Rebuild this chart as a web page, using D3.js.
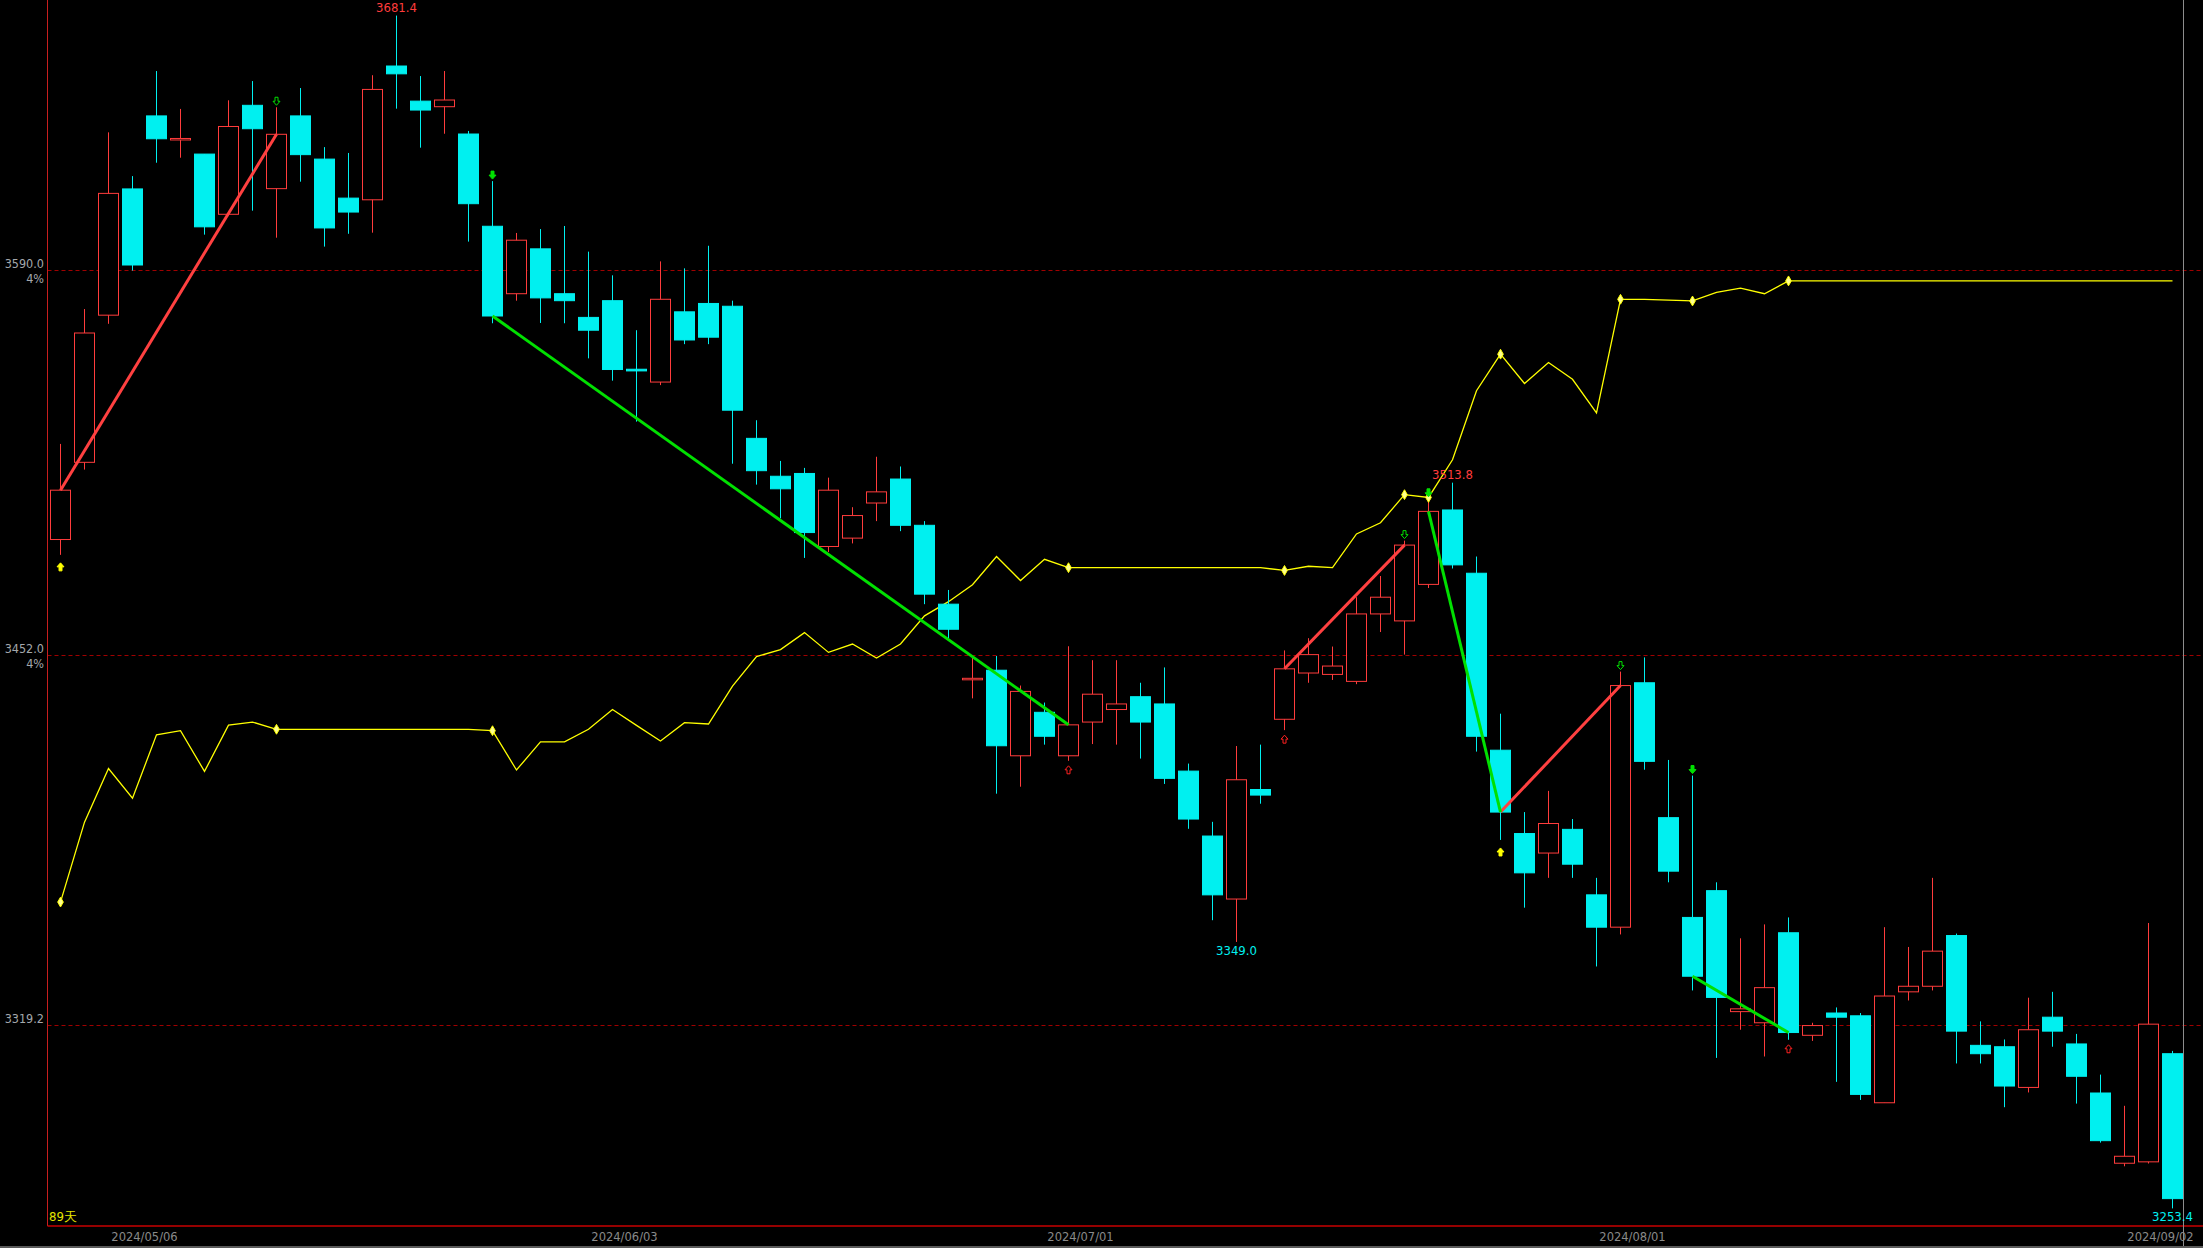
<!DOCTYPE html>
<html>
<head>
<meta charset="utf-8">
<script src="https://cdn.jsdelivr.net/npm/d3@7"></script>
<style>
  html, body { margin: 0; padding: 0; background: #000; }
  svg { display: block; }
  text { font-family: "Liberation Sans Narrow", "Arial Narrow", "DejaVu Sans Condensed", sans-serif; }
</style>
</head>
<body>
<div id="chart"></div>
<script>
var width = 2203;
var height = 1248;

// trading days shown (89天)
var dates = [
  "2024/04/25", "2024/04/26", "2024/04/29", "2024/04/30",
  "2024/05/06", "2024/05/07", "2024/05/08", "2024/05/09", "2024/05/10",
  "2024/05/13", "2024/05/14", "2024/05/15", "2024/05/16", "2024/05/17",
  "2024/05/20", "2024/05/21", "2024/05/22", "2024/05/23", "2024/05/24",
  "2024/05/27", "2024/05/28", "2024/05/29", "2024/05/30", "2024/05/31",
  "2024/06/03", "2024/06/04", "2024/06/05", "2024/06/06", "2024/06/07",
  "2024/06/11", "2024/06/12", "2024/06/13", "2024/06/14",
  "2024/06/17", "2024/06/18", "2024/06/19", "2024/06/20", "2024/06/21",
  "2024/06/24", "2024/06/25", "2024/06/26", "2024/06/27", "2024/06/28",
  "2024/07/01", "2024/07/02", "2024/07/03", "2024/07/04", "2024/07/05",
  "2024/07/08", "2024/07/09", "2024/07/10", "2024/07/11", "2024/07/12",
  "2024/07/15", "2024/07/16", "2024/07/17", "2024/07/18", "2024/07/19",
  "2024/07/22", "2024/07/23", "2024/07/24", "2024/07/25", "2024/07/26",
  "2024/07/29", "2024/07/30", "2024/07/31",
  "2024/08/01", "2024/08/02",
  "2024/08/05", "2024/08/06", "2024/08/07", "2024/08/08", "2024/08/09",
  "2024/08/12", "2024/08/13", "2024/08/14", "2024/08/15", "2024/08/16",
  "2024/08/19", "2024/08/20", "2024/08/21", "2024/08/22", "2024/08/23",
  "2024/08/26", "2024/08/27", "2024/08/28", "2024/08/29", "2024/08/30",
  "2024/09/02"
];

var open = [
  3493.4, 3521.1, 3573.9, 3619.2, 3645.4, 3637.0, 3631.7, 3610.1, 3649.2, 3619.3,
  3645.4, 3629.9, 3615.9, 3615.3, 3663.3, 3650.7, 3648.7, 3638.9, 3605.8, 3581.6,
  3597.7, 3581.6, 3573.1, 3579.1, 3554.5, 3549.9, 3575.1, 3578.1, 3577.1, 3529.7,
  3516.1, 3517.1, 3490.9, 3493.9, 3506.5, 3515.1, 3498.5, 3470.2, 3443.3, 3446.5,
  3415.8, 3431.4, 3415.8, 3427.9, 3432.4, 3437.0, 3434.4, 3410.3, 3387.0, 3364.4,
  3403.7, 3428.9, 3445.5, 3445.0, 3442.5, 3466.7, 3464.2, 3477.3, 3504.0, 3481.3,
  3417.8, 3387.9, 3380.9, 3389.4, 3365.9, 3354.3, 3442.0, 3393.6, 3357.8, 3367.4,
  3324.0, 3320.0, 3352.3, 3315.5, 3323.5, 3322.5, 3291.3, 3331.1, 3333.1, 3351.3,
  3311.9, 3311.4, 3296.8, 3322.0, 3312.4, 3294.8, 3269.6, 3270.1, 3308.9
];
var high = [
  3527.7, 3576.1, 3639.5, 3623.8, 3661.5, 3647.9, 3631.7, 3651.0, 3657.9, 3648.5,
  3655.4, 3634.2, 3632.1, 3660.0, 3681.4, 3659.7, 3661.5, 3640.0, 3622.0, 3603.4,
  3604.8, 3605.9, 3596.7, 3588.2, 3568.5, 3593.2, 3590.7, 3598.8, 3579.1, 3536.2,
  3521.6, 3519.1, 3515.6, 3505.0, 3523.1, 3519.6, 3500.0, 3475.3, 3451.0, 3451.6,
  3441.0, 3434.9, 3455.1, 3450.1, 3450.1, 3442.0, 3447.5, 3413.0, 3392.1, 3419.3,
  3419.8, 3453.6, 3458.0, 3455.0, 3472.7, 3480.3, 3493.0, 3508.0, 3513.8, 3487.3,
  3430.9, 3395.6, 3403.2, 3393.1, 3372.0, 3446.0, 3451.1, 3414.3, 3408.7, 3370.4,
  3350.3, 3355.3, 3357.8, 3320.0, 3325.5, 3323.5, 3354.3, 3347.2, 3372.0, 3352.0,
  3320.5, 3314.0, 3329.0, 3331.1, 3316.0, 3301.4, 3290.2, 3355.8, 3309.9
];
var low = [
  3487.9, 3518.5, 3570.8, 3589.9, 3628.6, 3630.4, 3602.8, 3610.1, 3611.4, 3601.7,
  3621.8, 3598.5, 3603.1, 3603.5, 3648.0, 3634.0, 3639.0, 3600.3, 3571.0, 3579.1,
  3571.1, 3571.0, 3558.4, 3550.4, 3535.7, 3548.8, 3563.5, 3563.5, 3520.6, 3513.1,
  3501.0, 3486.8, 3488.9, 3492.0, 3500.0, 3496.4, 3470.2, 3457.6, 3436.4, 3402.2,
  3404.7, 3419.8, 3414.0, 3420.0, 3419.8, 3414.8, 3405.7, 3389.6, 3356.8, 3349.0,
  3398.6, 3425.0, 3442.0, 3443.0, 3441.5, 3460.2, 3452.1, 3476.0, 3483.0, 3417.3,
  3385.6, 3361.3, 3372.0, 3372.0, 3340.2, 3351.7, 3410.8, 3370.4, 3331.6, 3307.4,
  3317.5, 3307.9, 3313.9, 3313.5, 3298.8, 3292.3, 3291.3, 3328.0, 3331.6, 3305.4,
  3305.4, 3289.7, 3295.0, 3311.4, 3291.0, 3277.0, 3268.5, 3269.5, 3253.4
];
var close = [
  3511.1, 3567.5, 3617.6, 3591.9, 3637.2, 3637.3, 3605.6, 3641.6, 3640.8, 3638.8,
  3631.5, 3605.2, 3610.9, 3654.9, 3660.5, 3647.5, 3651.1, 3613.9, 3573.6, 3600.8,
  3580.1, 3579.1, 3568.5, 3554.4, 3553.9, 3579.6, 3565.0, 3566.0, 3539.8, 3518.1,
  3511.6, 3495.9, 3511.1, 3502.0, 3510.5, 3498.5, 3473.8, 3461.2, 3443.6, 3419.4,
  3438.9, 3422.8, 3426.9, 3437.9, 3434.4, 3427.9, 3407.7, 3393.1, 3365.9, 3407.2,
  3401.7, 3447.0, 3452.1, 3448.0, 3466.7, 3472.7, 3491.4, 3503.5, 3484.3, 3422.8,
  3395.6, 3373.8, 3391.5, 3376.9, 3354.3, 3441.0, 3413.8, 3374.4, 3336.7, 3329.1,
  3325.0, 3332.6, 3316.5, 3319.0, 3322.0, 3294.3, 3329.6, 3333.1, 3345.7, 3317.0,
  3308.9, 3297.3, 3317.5, 3317.0, 3300.8, 3277.7, 3272.1, 3319.5, 3256.9
];

// yellow indicator line, drawn on the price axis
var yellowLine = [
  3363.3, 3392.0, 3411.2, 3400.6, 3423.3, 3424.8, 3410.2, 3426.8, 3427.9, 3425.3,
  3425.3, 3425.3, 3425.3, 3425.3, 3425.3, 3425.3, 3425.3, 3425.3, 3424.8, 3410.7,
  3420.8, 3420.8, 3425.3, 3432.4, 3426.7, 3421.1, 3427.7, 3427.2, 3440.8, 3451.4,
  3453.9, 3460.0, 3452.9, 3455.9, 3450.9, 3455.9, 3466.0, 3471.1, 3477.2, 3487.3,
  3478.7, 3486.3, 3483.3, 3483.3, 3483.3, 3483.3, 3483.3, 3483.3, 3483.3, 3483.3,
  3483.3, 3482.3, 3483.8, 3483.3, 3495.4, 3499.4, 3509.5, 3508.5, 3522.0, 3546.8,
  3559.9, 3549.4, 3556.9, 3550.9, 3538.8, 3579.6, 3579.6, 3579.3, 3579.0, 3582.1,
  3583.6, 3581.6, 3586.2, 3586.2, 3586.2, 3586.2, 3586.2, 3586.2, 3586.2, 3586.2,
  3586.2, 3586.2, 3586.2, 3586.2, 3586.2, 3586.2, 3586.2, 3586.2, 3586.2
];
var yellowDots = [0, 9, 18, 42, 51, 56, 57, 60, 65, 68, 72];

// zigzag segments, from close to close
var upSegments = [[0, 9], [51, 56], [60, 65]];
var downSegments = [[18, 42], [57, 60], [68, 72]];

// signal arrows
var greenHollow = [9, 56, 65];
var greenFilled = [18, 57, 68];
var yellowBelow = [0, 60];
var redBelow = [42, 51, 72];

// price guide lines (4% apart) and date labels
var guideLevels = [3590.0, 3452.0, 3319.2];
var guideTags = ["4%", "4%", ""];
var dateTicks = ["2024/05/06", "2024/06/03", "2024/07/01", "2024/08/01", "2024/09/02"];

// extreme labels
var extremeLabels = [
  { i: 14, v: 3681.4, pos: "top", color: "#ff3c3c" },
  { i: 58, v: 3513.8, pos: "top", color: "#ff3c3c" },
  { i: 49, v: 3349.0, pos: "bottom", color: "#00f0f0" },
  { i: 88, v: 3253.4, pos: "bottom", color: "#00f0f0" }
];

var upColor = "#ff3c3c";
var downColor = "#00f0f0";

var plotLeft = 47.5, plotRight = 2183.5, plotBottom = 1226;

var xScale = d3.scaleBand()
  .domain(dates)
  .range([plotLeft, plotRight])
  .paddingInner(0.125)
  .paddingOuter(0.0625);
var yScale = d3.scaleLinear()
  .domain([3319.2, 3590.0])
  .range([1025, 270.3]);

function cx(i) {
  return Math.round(xScale(dates[i]) + xScale.bandwidth() / 2) + 0.5;
}

var svg = d3.select("#chart")
  .append("svg")
  .attr("width", width)
  .attr("height", height);

svg.append("rect")
  .attr("width", width)
  .attr("height", height)
  .attr("fill", "#000");

// dashed guide lines
svg.selectAll(".guide")
  .data(guideLevels)
  .enter()
  .append("line")
  .attr("x1", plotLeft)
  .attr("x2", width)
  .attr("y1", function(d) { return Math.round(yScale(d)) + 0.5; })
  .attr("y2", function(d) { return Math.round(yScale(d)) + 0.5; })
  .attr("stroke", "#a00000")
  .attr("stroke-width", 1)
  .attr("stroke-dasharray", "4,3");

svg.selectAll(".guideLabel")
  .data(guideLevels)
  .enter()
  .append("text")
  .attr("x", 44)
  .attr("y", function(d) { return yScale(d) - 2; })
  .attr("text-anchor", "end")
  .attr("fill", "#a4a8ac")
  .style("font-size", "12.5px")
  .text(function(d) { return d.toFixed(1); });

svg.selectAll(".guideTag")
  .data(guideLevels)
  .enter()
  .append("text")
  .attr("x", 44)
  .attr("y", function(d) { return yScale(d) + 13; })
  .attr("text-anchor", "end")
  .attr("fill", "#a4a8ac")
  .style("font-size", "12.5px")
  .text(function(d, i) { return guideTags[i]; });

// frame
svg.append("line")
  .attr("x1", plotLeft).attr("x2", plotLeft)
  .attr("y1", 0).attr("y2", plotBottom)
  .attr("stroke", "#c81e1e");
svg.append("line")
  .attr("x1", plotLeft).attr("x2", width)
  .attr("y1", plotBottom).attr("y2", plotBottom)
  .attr("stroke", "#c80000")
  .attr("stroke-width", 1.5);
svg.append("line")
  .attr("x1", plotRight).attr("x2", plotRight)
  .attr("y1", 0).attr("y2", 1246)
  .attr("stroke", "#8c8c8c");
svg.append("rect")
  .attr("x", 0).attr("y", 1246)
  .attr("width", width).attr("height", 2)
  .attr("fill", "#5a5a5a");

// yellow indicator line
var line = d3.line()
  .x(function(d, i) { return cx(i); })
  .y(function(d) { return yScale(d); });

svg.append("path")
  .datum(yellowLine)
  .attr("d", line)
  .attr("fill", "none")
  .attr("stroke", "#ffff00")
  .attr("stroke-width", 1.3);

// candles
var candles = svg.selectAll(".candle")
  .data(dates)
  .enter()
  .append("g")
  .attr("class", "candle");

candles.append("line")
  .attr("x1", function(d, i) { return cx(i); })
  .attr("x2", function(d, i) { return cx(i); })
  .attr("y1", function(d, i) { return yScale(high[i]); })
  .attr("y2", function(d, i) { return yScale(low[i]); })
  .attr("stroke", function(d, i) { return close[i] >= open[i] ? upColor : downColor; })
  .attr("stroke-width", 1);

candles.append("rect")
  .attr("x", function(d, i) { return cx(i) - 10; })
  .attr("width", 20)
  .attr("y", function(d, i) { return yScale(Math.max(open[i], close[i])); })
  .attr("height", function(d, i) {
    return Math.max(1.5, Math.abs(yScale(open[i]) - yScale(close[i])));
  })
  .attr("fill", function(d, i) { return close[i] >= open[i] ? "#000" : downColor; })
  .attr("stroke", function(d, i) { return close[i] >= open[i] ? upColor : downColor; })
  .attr("stroke-width", 1);

// zigzag
svg.selectAll(".upSeg")
  .data(upSegments)
  .enter()
  .append("line")
  .attr("x1", function(d) { return cx(d[0]); })
  .attr("y1", function(d) { return yScale(close[d[0]]); })
  .attr("x2", function(d) { return cx(d[1]); })
  .attr("y2", function(d) { return yScale(close[d[1]]); })
  .attr("stroke", "#ff4040")
  .attr("stroke-width", 3);

svg.selectAll(".downSeg")
  .data(downSegments)
  .enter()
  .append("line")
  .attr("x1", function(d) { return cx(d[0]); })
  .attr("y1", function(d) { return yScale(close[d[0]]); })
  .attr("x2", function(d) { return cx(d[1]); })
  .attr("y2", function(d) { return yScale(close[d[1]]); })
  .attr("stroke", "#00e000")
  .attr("stroke-width", 3);

// yellow pivot dots
svg.selectAll(".dot")
  .data(yellowDots)
  .enter()
  .append("path")
  .attr("d", d3.symbol().type(d3.symbolDiamond).size(28))
  .attr("transform", function(d) { return "translate(" + cx(d) + "," + yScale(yellowLine[d]) + ")"; })
  .attr("fill", "#ffff90")
  .attr("stroke", "#ffff00")
  .attr("stroke-width", 1);

// arrow shaped markers
function arrowPath(x, y, down) {
  // y is the tip of the arrow
  var s = down ? -1 : 1;
  return "M" + x + "," + y +
    "L" + (x + 3.5) + "," + (y + s * 4) +
    "L" + (x + 1.5) + "," + (y + s * 4) +
    "L" + (x + 1.5) + "," + (y + s * 8) +
    "L" + (x - 1.5) + "," + (y + s * 8) +
    "L" + (x - 1.5) + "," + (y + s * 4) +
    "L" + (x - 3.5) + "," + (y + s * 4) + "Z";
}

svg.selectAll(".gh")
  .data(greenHollow)
  .enter()
  .append("path")
  .attr("d", function(d) { return arrowPath(cx(d), yScale(high[d]) - 2, true); })
  .attr("fill", "none")
  .attr("stroke", "#00e000")
  .attr("stroke-width", 1);

svg.selectAll(".gf")
  .data(greenFilled)
  .enter()
  .append("path")
  .attr("d", function(d) { return arrowPath(cx(d), yScale(high[d]) - 2, true); })
  .attr("fill", "#00e000")
  .attr("stroke", "#00e000")
  .attr("stroke-width", 1);

svg.selectAll(".yb")
  .data(yellowBelow)
  .enter()
  .append("path")
  .attr("d", function(d) { return arrowPath(cx(d), yScale(low[d]) + 8, false); })
  .attr("fill", "#ffff00")
  .attr("stroke", "#ffff00")
  .attr("stroke-width", 1);

svg.selectAll(".rb")
  .data(redBelow)
  .enter()
  .append("path")
  .attr("d", function(d) { return arrowPath(cx(d), yScale(low[d]) + 5, false); })
  .attr("fill", "none")
  .attr("stroke", "#ff2020")
  .attr("stroke-width", 1);

// extreme value labels
svg.selectAll(".ext")
  .data(extremeLabels)
  .enter()
  .append("text")
  .attr("x", function(d) { return cx(d.i); })
  .attr("y", function(d) { return d.pos === "top" ? yScale(d.v) - 4 : yScale(d.v) + 13; })
  .attr("text-anchor", "middle")
  .attr("fill", function(d) { return d.color; })
  .style("font-size", "13px")
  .text(function(d) { return d.v.toFixed(1); });

// date axis
svg.selectAll(".date")
  .data(dateTicks)
  .enter()
  .append("text")
  .attr("x", function(d) { return cx(dates.indexOf(d)) - 12; })
  .attr("y", 1241)
  .attr("text-anchor", "middle")
  .attr("fill", "#8a8a8a")
  .style("font-size", "12.8px")
  .text(function(d) { return d; });

svg.append("text")
  .attr("x", 49)
  .attr("y", 1221)
  .attr("fill", "#e6e600")
  .style("font-size", "13px")
  .text("89天");
</script>
</body>
</html>
